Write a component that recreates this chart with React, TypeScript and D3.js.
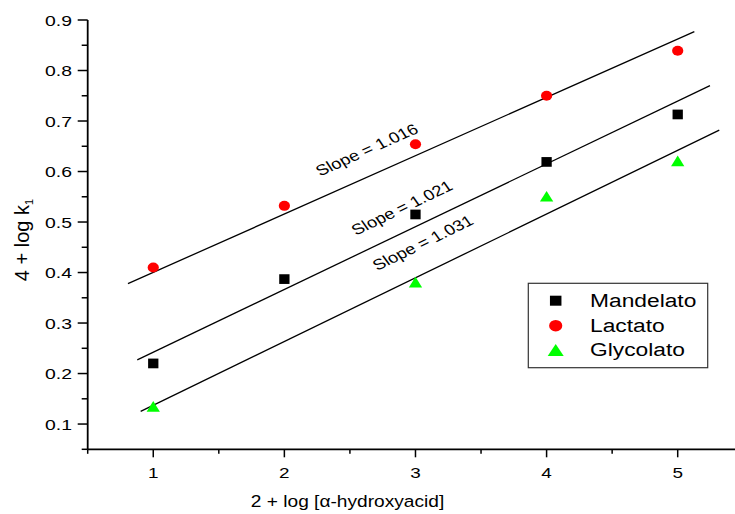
import React from "react";
import * as d3 from "d3";

const xValues = [1, 2, 3, 4, 5];
const mandelato = [0.22, 0.387, 0.515, 0.619, 0.713];
const lactato = [0.41, 0.532, 0.654, 0.75, 0.839];
const glycolatoX = [1, 3, 4, 5];
const glycolato = [0.135, 0.381, 0.551, 0.621];

const lactatoFit = [[0.807, 0.378], [5.127, 0.877]];
const mandelatoFit = [[0.878, 0.227], [5.246, 0.77]];
const glycolatoFit = [[0.904, 0.125], [5.317, 0.682]];

const slopeLabels = ["Slope = 1.016", "Slope = 1.021", "Slope = 1.031"];
const legendNames = ["Mandelato", "Lactato", "Glycolato"];
const xTicks = [1, 2, 3, 4, 5];
const xMinor = [0.5, 1.5, 2.5, 3.5, 4.5];
const yTicks = [0.1, 0.2, 0.3, 0.4, 0.5, 0.6, 0.7, 0.8, 0.9];
const yMinor = [0.05, 0.15, 0.25, 0.35, 0.45, 0.55, 0.65, 0.75, 0.85];

const FONT = "'Liberation Sans', Arial, Helvetica, sans-serif";
const SX = 1.22;

function STxt({ x, y, size, anchor = "start", rot = 0, sx = SX, children, baseline }: any) {
  const tr = Math.atan(Math.tan((rot * Math.PI) / 180) * sx) * 180 / Math.PI;
  return (
    <text
      transform={`translate(${x},${y}) scale(${sx},1) rotate(${tr})`}
      fontFamily={FONT}
      fontSize={size}
      textAnchor={anchor}
      dominantBaseline={baseline}
      fill="#000"
    >
      {children}
    </text>
  );
}

function Square({ cx, cy, w, h }: any) {
  return <rect x={cx - w / 2} y={cy - h / 2} width={w} height={h} fill="#000" />;
}
function Tri({ cx, cy, w, h }: any) {
  return (
    <path
      d={`M${cx},${cy - h / 2}L${cx + w / 2},${cy + h / 2}L${cx - w / 2},${cy + h / 2}Z`}
      fill="#00ff00"
    />
  );
}

export default function App() {
  const x = d3.scaleLinear().domain([0.5, 5.437]).range([87.7, 735]);
  const y = d3.scaleLinear().domain([0.05, 0.9]).range([449.3, 20]);
  const line = d3
    .line<number[]>()
    .x((d) => x(d[0]))
    .y((d) => y(d[1]));

  const fits = [lactatoFit, mandelatoFit, glycolatoFit];
  const angle = (f: number[][]) =>
    (Math.atan2(y(f[1][1]) - y(f[0][1]), x(f[1][0]) - x(f[0][0])) * 180) / Math.PI;
  const labelPos = [
    [367, 150],
    [402, 208],
    [423, 243],
  ];
  const labelAngles = [angle(lactatoFit), angle(mandelatoFit), angle(glycolatoFit)];

  return (
    <svg width={735} height={514} style={{ position: "absolute", left: 0, top: 0, background: "#fff" }}>
      <rect width={735} height={514} fill="#fff" />
      {/* axes */}
      <line x1={x(0.5)} x2={735} y1={y(0.05)} y2={y(0.05)} stroke="#000" strokeWidth={1.8} />
      <line x1={x(0.5)} x2={x(0.5)} y1={y(0.9)} y2={y(0.05)} stroke="#000" strokeWidth={1.8} />
      {xTicks.map((t) => (
        <g key={"xt" + t}>
          <line x1={x(t)} x2={x(t)} y1={y(0.05)} y2={y(0.05) + 8} stroke="#000" strokeWidth={1.5} />
          <STxt x={x(t)} y={477.5} size={15.5} anchor="middle">
            {t}
          </STxt>
        </g>
      ))}
      {xMinor.map((t) => (
        <line key={"xm" + t} x1={x(t)} x2={x(t)} y1={y(0.05)} y2={y(0.05) + 4.5} stroke="#000" strokeWidth={1.5} />
      ))}
      {yTicks.map((t) => (
        <g key={"yt" + t}>
          <line x1={x(0.5) - 10} x2={x(0.5)} y1={y(t)} y2={y(t)} stroke="#000" strokeWidth={1.5} />
          <STxt x={72} y={y(t) + 5.7} size={15.5} anchor="end" sx={1.25}>
            {t.toFixed(1)}
          </STxt>
        </g>
      ))}
      {yMinor.map((t) => (
        <line key={"ym" + t} x1={x(0.5) - 6} x2={x(0.5)} y1={y(t)} y2={y(t)} stroke="#000" strokeWidth={1.5} />
      ))}
      {/* axis titles */}
      <STxt x={347.5} y={507} size={16.5} anchor="middle" sx={1.16}>
        2 + log [α-hydroxyacid]
      </STxt>
      <text
        transform="translate(29,240) rotate(-90)"
        fontFamily={FONT}
        fontSize={20}
        textAnchor="middle"
        fill="#000"
      >
        4 + log k
        <tspan fontSize={11} dy={4}>1</tspan>
      </text>
      {/* fit lines */}
      {fits.map((f, i) => (
        <path key={"f" + i} d={line(f) || ""} fill="none" stroke="#000" strokeWidth={1.3} />
      ))}
      {slopeLabels.map((s, i) => (
        <STxt key={s} x={labelPos[i][0]} y={labelPos[i][1]} size={15} anchor="middle" rot={labelAngles[i]} baseline="central">
          {s}
        </STxt>
      ))}
      {/* data */}
      {xValues.map((v, i) => (
        <ellipse key={"l" + i} cx={x(v)} cy={y(lactato[i])} rx={5.6} ry={5} fill="#ff0000" />
      ))}
      {xValues.map((v, i) => (
        <Square key={"m" + i} cx={x(v)} cy={y(mandelato[i])} w={10.3} h={9.7} />
      ))}
      {glycolatoX.map((v, i) => (
        <Tri key={"g" + i} cx={x(v)} cy={y(glycolato[i])} w={13.3} h={10.7} />
      ))}
      {/* legend */}
      <rect x={528.3} y={283.3} width={179.4} height={84.4} fill="#fff" stroke="#333" strokeWidth={1.2} />
      <Square cx={555.7} cy={300.7} w={11.5} h={10} />
      <ellipse cx={555.7} cy={325.7} rx={6.6} ry={5.8} fill="#ff0000" />
      <Tri cx={555.7} cy={350} w={16} h={12} />
      {legendNames.map((n, i) => (
        <STxt key={n} x={590} y={306.7 + i * 24.8} size={17.8} sx={1.28}>
          {n}
        </STxt>
      ))}
    </svg>
  );
}
